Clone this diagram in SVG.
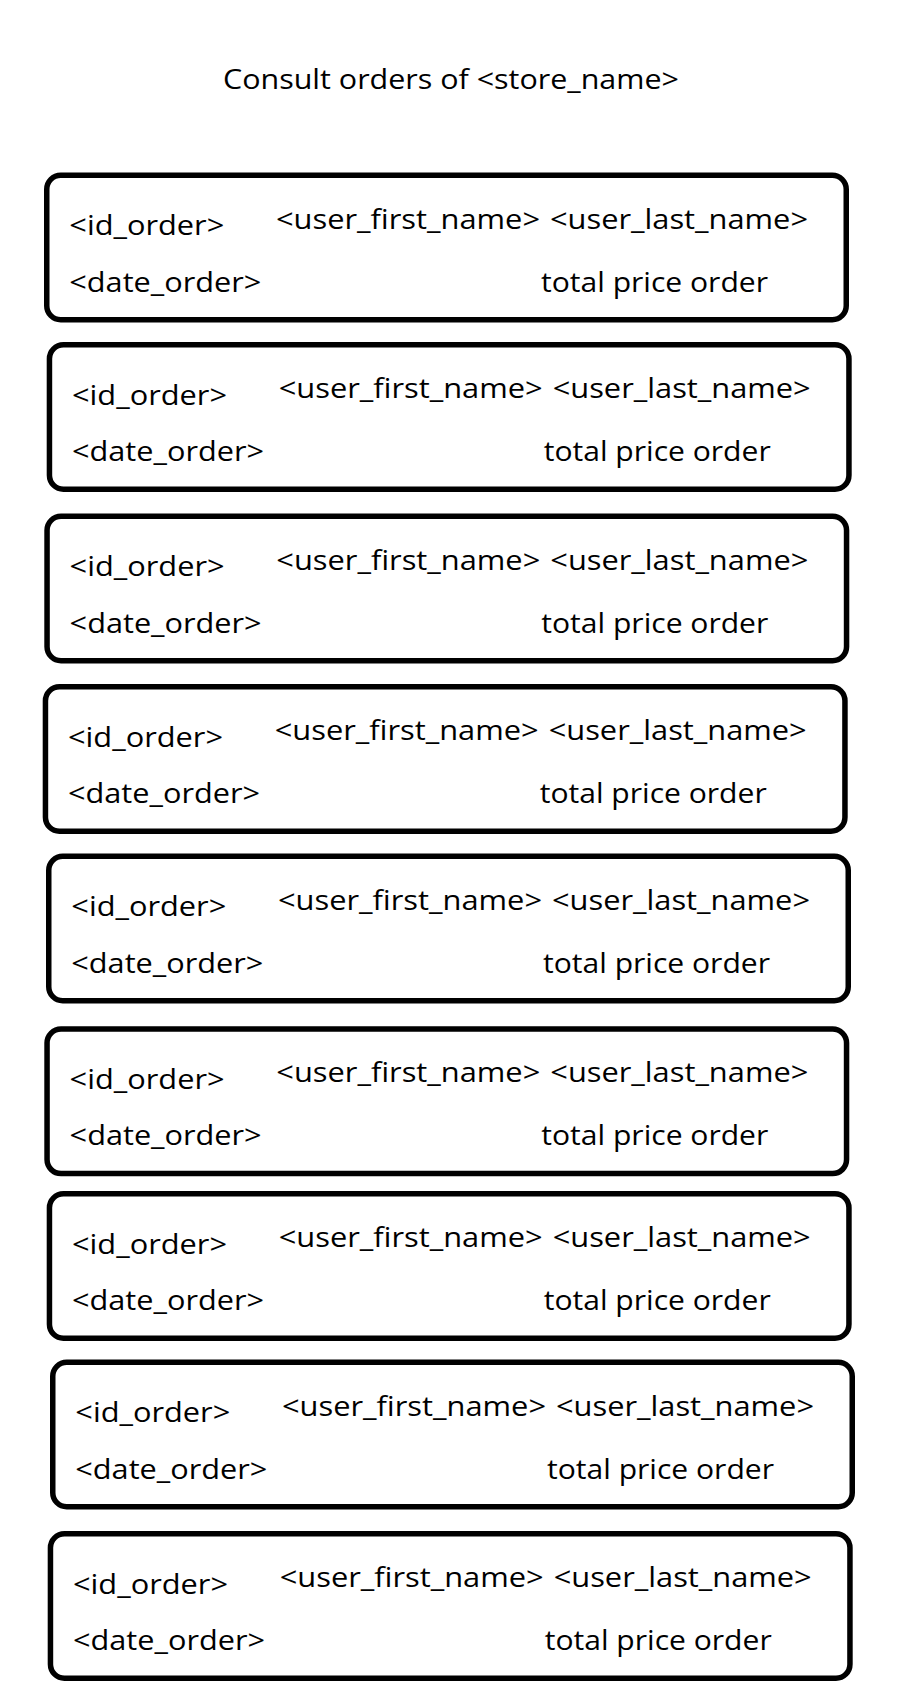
<svg xmlns="http://www.w3.org/2000/svg" width="906" height="1698" viewBox="0 0 906 1698">
<style>
  .bg { fill: #ffffff; }
  .card { fill: #ffffff; stroke: #000000; stroke-width: 5.5; }
  .t { font-family: "Open Sans", "Liberation Sans", sans-serif; font-size: 27.5px; fill: #000000; }
</style>
<defs>
  <g id="cardContent">
    <rect class="card" x="2.75" y="2.75" width="799.5" height="144.5" rx="14" ry="14"/>
    <text class="t" x="25.3" y="62.7" textLength="155" lengthAdjust="spacingAndGlyphs">&lt;id_order&gt;</text>
    <text class="t" x="232" y="56" textLength="264" lengthAdjust="spacingAndGlyphs">&lt;user_first_name&gt;</text>
    <text class="t" x="506" y="56" textLength="258" lengthAdjust="spacingAndGlyphs">&lt;user_last_name&gt;</text>
    <text class="t" x="25.3" y="119.2" textLength="192" lengthAdjust="spacingAndGlyphs">&lt;date_order&gt;</text>
    <text class="t" x="497" y="119" textLength="227" lengthAdjust="spacingAndGlyphs">total price order</text>
  </g>
</defs>
<rect class="bg" x="0" y="0" width="906" height="1698"/>
<g id="title">
  <text class="t" x="223" y="89.3" textLength="456" lengthAdjust="spacingAndGlyphs">Consult orders of &lt;store_name&gt;</text>
</g>
<g id="connectors"/>
<g id="order1" transform="translate(44,172.5)"><use href="#cardContent"/></g>
<g id="order2" transform="translate(46.7,342)"><use href="#cardContent"/></g>
<g id="order3" transform="translate(44.3,513.5)"><use href="#cardContent"/></g>
<g id="order4" transform="translate(42.7,684)"><use href="#cardContent"/></g>
<g id="order5" transform="translate(46,853.5)"><use href="#cardContent"/></g>
<g id="order6" transform="translate(44.3,1026.3)"><use href="#cardContent"/></g>
<g id="order7" transform="translate(46.7,1191)"><use href="#cardContent"/></g>
<g id="order8" transform="translate(50,1359.5)"><use href="#cardContent"/></g>
<g id="order9" transform="translate(47.7,1531)"><use href="#cardContent"/></g>
</svg>
